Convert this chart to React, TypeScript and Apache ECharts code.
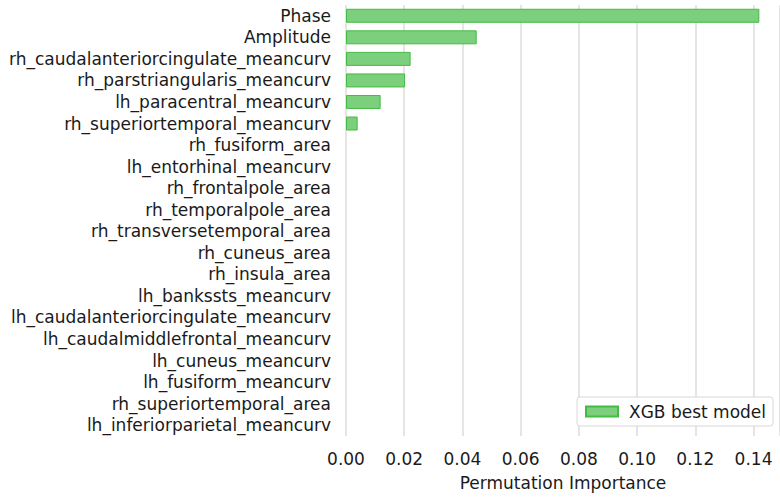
import React, { useEffect, useRef } from "react";
import * as echarts from "echarts";

const categories = [
  "Phase",
  "Amplitude",
  "rh_caudalanteriorcingulate_meancurv",
  "rh_parstriangularis_meancurv",
  "lh_paracentral_meancurv",
  "rh_superiortemporal_meancurv",
  "rh_fusiform_area",
  "lh_entorhinal_meancurv",
  "rh_frontalpole_area",
  "rh_temporalpole_area",
  "rh_transversetemporal_area",
  "rh_cuneus_area",
  "rh_insula_area",
  "lh_bankssts_meancurv",
  "lh_caudalanteriorcingulate_meancurv",
  "lh_caudalmiddlefrontal_meancurv",
  "lh_cuneus_meancurv",
  "lh_fusiform_meancurv",
  "rh_superiortemporal_area",
  "lh_inferiorparietal_meancurv",
];

const importance = [
  0.142, 0.0449, 0.0222, 0.0203, 0.0119, 0.004, 0, 0, 0, 0, 0, 0, 0, 0, 0, 0, 0,
  0, 0, 0,
];

const seriesName = "XGB best model";
const axisTitle = "Permutation Importance";

export default function App() {
  const ref = useRef<HTMLDivElement>(null);
  useEffect(() => {
    if (!ref.current) return;
    const chart = echarts.init(ref.current, undefined, { renderer: "svg" });
    const font = "DejaVu Sans";
    const fs = 17;
    chart.setOption({
      animation: false,
      textStyle: { fontFamily: font },
      grid: { left: 346, right: 0, top: 5, bottom: 62, containLabel: false },
      legend: {
        data: [seriesName],
        right: 7,
        top: 397,
        icon: "rect",
        itemWidth: 32,
        itemHeight: 10,
        padding: [6, 7, 6, 8],
        borderColor: "#d8d8d8",
        borderWidth: 1,
        borderRadius: 3,
        backgroundColor: "#ffffff",
        textStyle: { fontFamily: font, fontSize: fs, color: "#1a1a1a", padding: [0, 0, 0, 6] },
      },
      xAxis: {
        type: "value",
        min: 0,
        max: 0.1491,
        interval: 0.02,
        name: axisTitle,
        nameLocation: "middle",
        nameGap: 38,
        nameTextStyle: { fontFamily: font, fontSize: fs, color: "#1a1a1a" },
        axisLine: { show: false },
        axisTick: { show: false },
        axisLabel: {
          fontFamily: font,
          fontSize: fs,
          color: "#1a1a1a",
          margin: 14,
          formatter: (v: number) => v.toFixed(2),
        },
        splitLine: { show: true, lineStyle: { color: "#dcdcdc", width: 1.5 } },
      },
      yAxis: {
        type: "category",
        data: categories,
        inverse: true,
        axisLine: { show: false },
        axisTick: { show: false },
        axisLabel: {
          interval: 0,
          fontFamily: font,
          fontSize: fs,
          color: "#1a1a1a",
          margin: 15,
        },
        splitLine: { show: false },
      },
      series: [
        {
          name: seriesName,
          type: "bar",
          data: importance.map((v) =>
            v > 0 ? v : { value: v, itemStyle: { borderWidth: 0 } }
          ),
          barWidth: 14,
          itemStyle: {
            color: "rgba(124,207,124,1)",
            borderColor: "#44bb44",
            borderWidth: 1,
          },
        },
      ],
    });
    return () => chart.dispose();
  }, []);
  return (
    <div
      ref={ref}
      style={{ position: "absolute", left: 0, top: 0, width: 780, height: 498 }}
    />
  );
}
